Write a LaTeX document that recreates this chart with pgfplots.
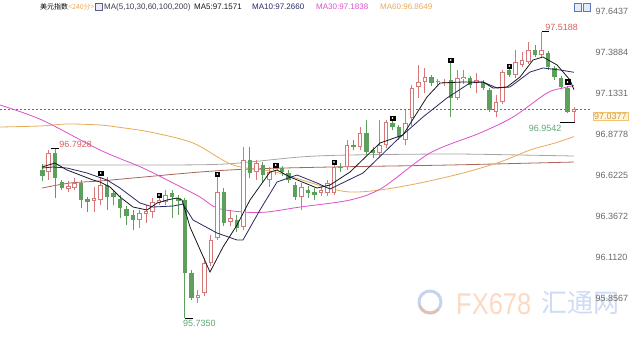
\documentclass[border=0pt]{standalone}
\usepackage{fontspec}
\setmainfont{Liberation Sans}
\newfontfamily\cjk{Noto Sans CJK SC}
\newfontfamily\monof{Liberation Mono}
\usepackage{pgfplots}
\pgfplotsset{compat=1.18}
\usepackage{pgfplotstable}
\definecolor{upc}{RGB}{214,120,120}
\definecolor{dnc}{RGB}{92,160,92}
\definecolor{ma5c}{RGB}{25,25,25}
\definecolor{ma10c}{RGB}{40,40,100}
\definecolor{ma30c}{RGB}{220,80,200}
\definecolor{ma60c}{RGB}{232,170,90}
\definecolor{ma100c}{RGB}{165,165,165}
\definecolor{ma200c}{RGB}{170,100,90}
\definecolor{lblred}{RGB}{215,95,95}
\definecolor{lblgreen}{RGB}{95,165,115}
\definecolor{axtext}{RGB}{105,105,105}
\definecolor{dashc}{RGB}{70,110,190}

\pgfplotstableread{
i o h l c
1 96.6443 96.7814 96.5944 96.7627
4 96.5383 96.5882 96.5196 96.5570
5 96.5445 96.6069 96.5320 96.5757
8 96.4635 96.5507 96.3949 96.4822
9 96.4697 96.6131 96.4385 96.5632
15 96.3450 96.4074 96.2951 96.3887
16 96.3824 96.4385 96.3263 96.4011
17 96.3949 96.4822 96.3575 96.4572
18 96.4510 96.4884 96.4385 96.4697
19 96.4572 96.5320 96.4385 96.5009
24 95.8588 95.9086 95.8276 95.8775
25 95.8899 96.1081 95.8712 96.0769
26 96.0769 96.2515 96.0582 96.2204
27 96.2328 96.6193 96.2204 96.5196
29 96.3325 96.4074 96.3076 96.3575
31 96.3014 96.8001 96.2827 96.7191
33 96.6443 96.7191 96.5944 96.7004
35 96.5944 96.6754 96.5507 96.6443
36 96.6567 96.6754 96.6256 96.6692
40 96.4884 96.5757 96.4074 96.5507
43 96.5133 96.5570 96.4946 96.5320
44 96.5133 96.5944 96.4946 96.5757
45 96.5133 96.6941 96.5009 96.6754
47 96.6754 96.8438 96.6567 96.8126
49 96.8001 96.9248 96.7814 96.8874
52 96.7627 96.9685 96.7440 96.8126
53 96.8126 96.9685 96.7939 96.9560
56 96.8438 97.0308 96.8126 96.9498
57 96.9809 97.1867 96.9311 97.1680
58 97.1742 97.3114 97.1056 97.2054
59 97.2054 97.2927 97.1368 97.2366
61 97.2023 97.2241 97.1867 97.2085
62 97.1992 97.2241 97.1805 97.2054
64 97.1056 97.2802 97.0932 97.2303
65 97.2241 97.2802 97.1929 97.2366
67 97.1992 97.2615 97.1368 97.2179
70 97.0184 97.1243 96.9872 97.0807
71 97.0807 97.2802 97.0682 97.2677
73 97.2490 97.4049 97.2303 97.3301
74 97.3114 97.3924 97.2989 97.3425
75 97.3301 97.4548 97.3176 97.4049
77 97.3737 97.5188 97.3613 97.4049
82 97.0184 97.0495 96.9542 97.0377
}\upcandles

\pgfplotstableread{
i o h l c
0 96.6567 96.6941 96.5882 96.6193
2 96.7627 96.7928 96.4822 96.6069
3 96.5819 96.5944 96.5320 96.5445
6 96.5757 96.5944 96.4198 96.4697
7 96.4759 96.4884 96.3949 96.4572
10 96.5632 96.6131 96.4074 96.4884
11 96.5133 96.5320 96.4385 96.4884
12 96.4759 96.5009 96.3575 96.4198
13 96.4136 96.4323 96.3139 96.3700
14 96.3762 96.4074 96.2827 96.3450
20 96.5133 96.5320 96.3575 96.4884
21 96.4822 96.5009 96.3762 96.4635
22 96.4697 96.4822 95.7350 96.0146
23 96.0146 96.0333 95.8463 95.8588
28 96.5196 96.5445 96.3076 96.3263
30 96.3450 96.3762 96.2702 96.2951
32 96.7191 96.8001 96.6069 96.6380
34 96.6879 96.7066 96.5757 96.6256
37 96.6692 96.6817 96.6193 96.6443
38 96.6380 96.6567 96.5757 96.5944
39 96.5632 96.5819 96.4697 96.4884
41 96.5320 96.5570 96.4822 96.5133
42 96.5196 96.5445 96.4697 96.5009
46 96.6754 96.7004 96.6443 96.6692
48 96.8126 96.8438 96.7814 96.8001
50 96.8874 96.9685 96.7503 96.7690
51 96.7814 96.8001 96.7316 96.7627
54 96.9498 96.9623 96.9061 96.9248
55 96.9248 96.9373 96.8438 96.8625
60 97.2366 97.2490 97.1805 97.1992
63 97.2179 97.3238 96.9872 97.1056
66 97.2303 97.2428 97.1680 97.1867
68 97.2054 97.2179 97.1555 97.1680
69 97.1555 97.1680 97.0184 97.0308
72 97.2802 97.2864 97.2366 97.2490
76 97.4049 97.4361 97.3613 97.3737
78 97.3862 97.3986 97.2802 97.2989
79 97.2927 97.3051 97.2179 97.2366
80 97.2303 97.2428 97.1617 97.1742
81 97.1680 97.1805 97.0121 97.0184
}\dncandles

\begin{document}
\begin{tikzpicture}[x=1pt,y=1pt]
\useasboundingbox (0,0) rectangle (640,340);
% watermark
\begin{scope}[opacity=0.55]
\draw[line width=3pt, color={rgb,255:red,150;green,175;blue,220}] (430,38) circle (11);
\draw[line width=3pt, color={rgb,255:red,245;green,180;blue,140}] (430,38) ++(200:11) arc (200:320:11);
\node[anchor=west, inner sep=0pt, text={rgb,255:red,250;green,185;blue,140}] at (456,36) {\scalebox{0.85}[1]{\fontsize{30}{30}\selectfont FX678}};
\node[anchor=west, inner sep=0pt, text={rgb,255:red,165;green,190;blue,235}] at (541,37) {\cjk\fontsize{26}{26}\selectfont 汇通网};
\end{scope}
\begin{axis}[at={(0pt,0pt)}, anchor=south west, width=590pt, height=340pt, scale only axis,
  xmin=-6.524, xmax=84.47, ymin=95.597, ymax=97.7166,
  axis line style={draw=none}, xtick=\empty,
  ytick={95.8567,96.1120,96.3672,96.6225,96.8778,97.1331,97.3884,97.6437},
  yticklabels={95.8567,96.1120,96.3672,96.6225,96.8778,97.1331,97.3884,97.6437},
  yticklabel pos=right, major tick length=0pt, tick style={draw=none},
  yticklabel style={font=\fontsize{9}{10}\selectfont, text=axtext, xshift=2pt},
  clip=false]
% current price dashed line
\addplot[dashc, line width=0.6pt, dash pattern=on 2pt off 2pt] coordinates {(-6.524,97.0377) (84.47,97.0377)};
% moving averages
\addplot[ma100c, line width=0.8pt, smooth] coordinates {(-0.05,96.6879) (16.61,96.6879) (28.18,96.6941) (39.75,96.7378) (47.46,96.7503) (62.88,96.7565) (73.68,96.7503) (82,96.7440)};
\addplot[ma200c, line width=0.8pt, smooth] coordinates {(-0.05,96.5445) (4.27,96.5757) (8.90,96.5882) (13.99,96.6069) (24.32,96.6443) (32.03,96.6630) (44.37,96.6754) (62.88,96.6879) (82,96.7066)};
\addplot[ma60c, line width=0.8pt, smooth] coordinates {(-6.52,96.9248) (-0.35,96.9311) (3.81,96.9435) (8.90,96.9373) (11.52,96.9248) (16.61,96.8936) (23.25,96.8251) (29.41,96.6879) (35.89,96.6443) (43.60,96.5507) (47.46,96.5196) (52.08,96.5320) (58.25,96.5757) (64.88,96.6380) (70.59,96.7066) (75.22,96.7814) (79.08,96.8251) (82,96.8649)};
\addplot[ma30c, line width=0.8pt, smooth] coordinates {(-6.52,97.0620) (-0.05,96.9685) (8.90,96.7814) (15.53,96.6692) (20.77,96.5632) (24.32,96.4884) (26.94,96.4198) (30.95,96.3949) (34.66,96.3949) (39.75,96.4260) (47.46,96.4697) (52.39,96.5445) (59.79,96.7627) (67.50,96.8874) (72.60,96.9872) (77.84,97.1368) (80.31,97.1680) (82,97.1838)};
% candle wicks
\addplot[draw=none, mark=none, error bars/.cd, y dir=plus, y explicit, error mark=none, error bar style={draw=upc, line width=0.9pt}] table[x=i, y=l, y error expr={\thisrow{h}-\thisrow{l}}] {\upcandles};
\addplot[draw=none, mark=none, error bars/.cd, y dir=plus, y explicit, error mark=none, error bar style={draw=dnc, line width=0.9pt}] table[x=i, y=l, y error expr={\thisrow{h}-\thisrow{l}}] {\dncandles};
% bodies
\addplot[draw=none, mark=none, error bars/.cd, y dir=plus, y explicit, error mark=none, error bar style={draw=dnc, line width=4.4pt}] table[x=i, y=c, y error expr={max(\thisrow{o}-\thisrow{c},0.007)}] {\dncandles};
\addplot[draw=none, mark=none, error bars/.cd, y dir=plus, y explicit, error mark=none, error bar style={draw=upc, line width=4.6pt}] table[x=i, y=o, y error expr={max(\thisrow{c}-\thisrow{o},0.007)}] {\upcandles};
\addplot[draw=none, mark=none, error bars/.cd, y dir=plus, y explicit, error mark=none, error bar style={draw=white, line width=2.6pt}] table[x=i, y expr={\thisrow{o}+0.0058}, y error expr={max(\thisrow{c}-\thisrow{o}-0.0116,0)}] {\upcandles};
% short MAs on top
\addplot[ma10c, line width=0.8pt] coordinates {(-0.05,96.6692) (1.65,96.6754) (3.81,96.6692) (6.89,96.6380) (9.98,96.5944) (11.98,96.5445) (15.07,96.4510) (17.07,96.4260) (20.16,96.4323) (21.70,96.4448) (23.25,96.3450) (26.94,96.2640) (30.03,96.2204) (30.95,96.2204) (33.57,96.4074) (36.20,96.5819) (39.28,96.6256) (42.37,96.5757) (44.37,96.5383) (49.46,96.6380) (54.70,96.8438) (58.71,96.9872) (62.41,97.1056) (65.96,97.1992) (67.97,97.2054) (70.13,97.1680) (72.13,97.1742) (75.22,97.2677) (77.22,97.2927) (79.85,97.2802) (82,97.2660)};
\addplot[ma5c, line width=0.8pt] coordinates {(-0.05,96.6754) (1.96,96.7004) (3.81,96.6567) (5.81,96.6256) (7.82,96.5944) (8.90,96.5819) (10.44,96.5507) (11.98,96.4884) (13.99,96.4260) (16.15,96.4074) (17.69,96.4510) (19.23,96.4697) (20.77,96.4822) (21.55,96.4697) (22.78,96.3014) (25.86,96.0208) (27.87,96.1767) (30.03,96.3139) (32.03,96.4697) (35.12,96.6443) (36.20,96.6567) (38.20,96.6131) (42.37,96.5445) (44.37,96.5632) (47.46,96.6443) (52.08,96.8251) (55.63,96.8749) (59.33,97.1119) (61.34,97.1992) (64.88,97.2054) (67.97,97.2054) (69.51,97.1680) (71.67,97.1742) (73.68,97.2366) (75.68,97.3425) (77.22,97.3613) (79.39,97.3114) (81.39,97.2179) (82,97.1571)};
% day markers
\addplot[only marks, mark=square*, mark size=2.3pt, mark options={fill=black, draw=black}] coordinates {(9,96.6380) (18,96.5009) (27,96.6318) (36,96.6879) (45,96.7066) (54,96.9809) (63,97.3425) (72,97.3051) (81,97.2054)};
\addplot[only marks, mark=*, mark size=0.6pt, mark options={fill=white, draw=white}] coordinates {(9,96.6380) (18,96.5009) (27,96.6318) (36,96.6879) (45,96.7066) (54,96.9809) (63,97.3425) (72,97.3051) (81,97.2054)};
% high / low annotations
\draw[black, line width=0.6pt] (axis cs:1.4,96.7928) -- (axis cs:2.6,96.7928);
\node[anchor=west, inner sep=0pt, text=lblred, font=\fontsize{9}{10}\selectfont] at (axis cs:2.6,96.8189) {96.7928};
\draw[black, line width=0.6pt] (axis cs:77,97.5188) -- (axis cs:78.1,97.5188);
\node[anchor=west, inner sep=0pt, text=lblred, font=\fontsize{9}{10}\selectfont] at (axis cs:77.55,97.5483) {97.5188};
\draw[black, line width=0.6pt] (axis cs:22,95.7350) -- (axis cs:23.2,95.7350);
\node[anchor=west, inner sep=0pt, text=lblgreen, font=\fontsize{9}{10}\selectfont] at (axis cs:21.7,95.7030) {95.7350};
\draw[black, line width=0.6pt] (axis cs:79.8,96.9542) -- (axis cs:82.2,96.9542);
\node[anchor=west, inner sep=0pt, text=lblgreen, font=\fontsize{9}{10}\selectfont] at (axis cs:75.0,96.9185) {96.9542};
\end{axis}
% current price tag
\node[anchor=west, inner sep=1pt, fill={rgb,255:red,255;green,246;blue,222}, draw={rgb,255:red,240;green,195;blue,110}, text={rgb,255:red,215;green,150;blue,60}, font=\fontsize{9}{10}\selectfont] at (593,224) {97.0377};
% header
\node[anchor=west, inner sep=0pt, font=\cjk\fontsize{7}{8}\selectfont] at (40,333) {美元指数};
\node[anchor=west, inner sep=0pt, text=ma60c, font=\cjk\fontsize{7}{8}\selectfont] at (68,333) {<240分>};
\draw[draw={rgb,255:red,90;green,90;blue,140}, fill={rgb,255:red,235;green,235;blue,245}] (95,329.5) rectangle (102,336.5);
\node[anchor=west, inner sep=0pt, text={rgb,255:red,60;green,60;blue,80}, font=\fontsize{8}{9}\selectfont] at (104,333) {MA(5,10,30,60,100,200)};
\node[anchor=west, inner sep=0pt, text=ma5c, font=\fontsize{8}{9}\selectfont] at (194,333) {MA5:97.1571};
\node[anchor=west, inner sep=0pt, text=ma10c, font=\fontsize{8}{9}\selectfont] at (252,333) {MA10:97.2660};
\node[anchor=west, inner sep=0pt, text=ma30c, font=\fontsize{8}{9}\selectfont] at (316,333) {MA30:97.1838};
\node[anchor=west, inner sep=0pt, text=ma60c, font=\fontsize{8}{9}\selectfont] at (380,333) {MA60:96.8649};
% top right icons
\draw[draw={rgb,255:red,90;green,120;blue,190}, fill={rgb,255:red,225;green,235;blue,250}] (574,329) rectangle (581,337);
\draw[draw={rgb,255:red,90;green,120;blue,190}, fill={rgb,255:red,225;green,235;blue,250}] (583,329) rectangle (590,337);
\end{tikzpicture}
\end{document}
